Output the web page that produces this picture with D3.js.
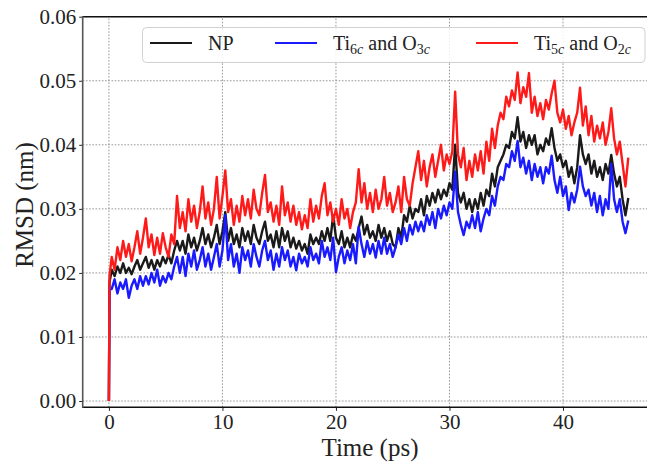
<!DOCTYPE html>
<html><head><meta charset="utf-8">
<script src="https://cdn.jsdelivr.net/npm/d3@7"></script>
<style>body{margin:0;background:#fff}svg{display:block}</style>
</head><body>
<svg id="chart" width="647" height="463"></svg>
<script>
// ---- data (RMSD in nm) ----
const time = [0, 0.05].concat(d3.range(0.25, 45.8, 0.25));
const seriesNames = ["NP", "Ti6c and O3c", "Ti5c and O2c"];
const xTicks = [0, 10, 20, 30, 40];
const yTicks = [0.00, 0.01, 0.02, 0.03, 0.04, 0.05, 0.06];

const npVals = [0, 0.0185,
0.0205,0.0195,0.0210,0.0200, 0.0215,0.0200,0.0208,0.0198, 0.0210,0.0220,0.0205,0.0215, 0.0225,0.0208,0.0220,0.0205,
0.0220,0.0210,0.0225,0.0215, 0.0228,0.0215,0.0235,0.0250, 0.0235,0.0250,0.0230,0.0260, 0.0240,0.0255,0.0235,0.0250,
0.0270,0.0245,0.0260,0.0240, 0.0255,0.0275,0.0245,0.0265, 0.0295,0.0250,0.0270,0.0245, 0.0260,0.0240,0.0270,0.0250,
0.0265,0.0245,0.0275,0.0255, 0.0245,0.0265,0.0280,0.0250, 0.0260,0.0240,0.0265,0.0240, 0.0270,0.0250,0.0265,0.0240,
0.0255,0.0238,0.0250,0.0235, 0.0245,0.0230,0.0260,0.0245, 0.0255,0.0245,0.0265,0.0250, 0.0270,0.0250,0.0290,0.0255,
0.0245,0.0265,0.0240,0.0255, 0.0240,0.0260,0.0250,0.0270, 0.0288,0.0260,0.0275,0.0255, 0.0265,0.0250,0.0275,0.0255,
0.0270,0.0250,0.0265,0.0245, 0.0240,0.0270,0.0255,0.0290, 0.0280,0.0305,0.0285,0.0300, 0.0295,0.0315,0.0290,0.0320,
0.0305,0.0325,0.0310,0.0330, 0.0315,0.0330,0.0320,0.0340, 0.0330,0.0400,0.0325,0.0310, 0.0325,0.0300,0.0315,0.0295,
0.0315,0.0300,0.0325,0.0305, 0.0330,0.0320,0.0355,0.0335, 0.0365,0.0375,0.0385,0.0400, 0.0395,0.0420,0.0410,0.0443,
0.0405,0.0420,0.0395,0.0415, 0.0400,0.0415,0.0385,0.0400, 0.0390,0.0410,0.0400,0.0426, 0.0395,0.0375,0.0385,0.0365,
0.0375,0.0350,0.0365,0.0340, 0.0365,0.0415,0.0385,0.0370, 0.0385,0.0355,0.0375,0.0350, 0.0365,0.0345,0.0370,0.0355,
0.0384,0.0355,0.0335,0.0350, 0.0315,0.0290,0.0317];

const ti6Vals = [0, 0.0175,
0.0175,0.0190,0.0168,0.0185, 0.0175,0.0190,0.0161,0.0180, 0.0190,0.0175,0.0195,0.0180, 0.0195,0.0182,0.0200,0.0185,
0.0205,0.0180,0.0195,0.0185, 0.0200,0.0190,0.0210,0.0225, 0.0200,0.0225,0.0195,0.0230, 0.0210,0.0235,0.0205,0.0220,
0.0240,0.0210,0.0230,0.0205, 0.0225,0.0245,0.0210,0.0235, 0.0290,0.0220,0.0245,0.0210, 0.0230,0.0200,0.0240,0.0220,
0.0235,0.0210,0.0245,0.0225, 0.0210,0.0235,0.0250,0.0220, 0.0235,0.0205,0.0230,0.0210, 0.0240,0.0220,0.0235,0.0210,
0.0225,0.0204,0.0230,0.0215, 0.0225,0.0210,0.0240,0.0220, 0.0230,0.0215,0.0250,0.0225, 0.0240,0.0220,0.0255,0.0201,
0.0225,0.0240,0.0215,0.0235, 0.0220,0.0245,0.0215,0.0272, 0.0245,0.0225,0.0250,0.0230, 0.0245,0.0224,0.0250,0.0230,
0.0255,0.0230,0.0245,0.0225, 0.0240,0.0260,0.0245,0.0270, 0.0250,0.0275,0.0260,0.0280, 0.0265,0.0280,0.0265,0.0290,
0.0275,0.0295,0.0270,0.0300, 0.0285,0.0305,0.0290,0.0310, 0.0300,0.0358,0.0295,0.0275, 0.0259,0.0280,0.0270,0.0290,
0.0270,0.0295,0.0265,0.0285, 0.0300,0.0290,0.0320,0.0305, 0.0335,0.0350,0.0345,0.0370, 0.0365,0.0390,0.0375,0.0406,
0.0365,0.0380,0.0355,0.0375, 0.0345,0.0370,0.0350,0.0365, 0.0340,0.0365,0.0355,0.0383, 0.0345,0.0325,0.0350,0.0320,
0.0335,0.0298,0.0325,0.0310, 0.0330,0.0366,0.0335,0.0320, 0.0330,0.0305,0.0325,0.0295, 0.0320,0.0290,0.0315,0.0300,
0.0370,0.0315,0.0295,0.0315, 0.0280,0.0262,0.0282];

const ti5Vals = [0, 0.0195,
0.0225,0.0205,0.0240,0.0220, 0.0250,0.0225,0.0245,0.0218, 0.0240,0.0265,0.0230,0.0255, 0.0285,0.0240,0.0260,0.0228,
0.0255,0.0230,0.0262,0.0240, 0.0225,0.0260,0.0245,0.0320, 0.0270,0.0295,0.0265,0.0315, 0.0280,0.0305,0.0270,0.0295,
0.0335,0.0285,0.0310,0.0275, 0.0300,0.0350,0.0285,0.0320, 0.0360,0.0295,0.0315,0.0275, 0.0305,0.0280,0.0320,0.0290,
0.0315,0.0285,0.0330,0.0300, 0.0290,0.0325,0.0353,0.0295, 0.0310,0.0280,0.0305,0.0275, 0.0335,0.0290,0.0310,0.0280,
0.0305,0.0275,0.0295,0.0268, 0.0290,0.0270,0.0315,0.0280, 0.0305,0.0285,0.0320,0.0340, 0.0290,0.0310,0.0280,0.0300,
0.0275,0.0315,0.0285,0.0300, 0.0270,0.0295,0.0310,0.0362, 0.0310,0.0340,0.0300,0.0325, 0.0295,0.0330,0.0300,0.0315,
0.0350,0.0305,0.0325,0.0295, 0.0310,0.0335,0.0295,0.0350, 0.0315,0.0305,0.0340,0.0365, 0.0390,0.0345,0.0375,0.0335,
0.0365,0.0385,0.0350,0.0375, 0.0400,0.0360,0.0385,0.0370, 0.0390,0.0483,0.0385,0.0365, 0.0395,0.0345,0.0375,0.0350,
0.0385,0.0360,0.0390,0.0355, 0.0405,0.0375,0.0425,0.0395, 0.0430,0.0450,0.0440,0.0475, 0.0460,0.0485,0.0470,0.0513,
0.0465,0.0490,0.0475,0.0512, 0.0450,0.0475,0.0445,0.0465, 0.0440,0.0470,0.0455,0.0480, 0.0500,0.0450,0.0435,0.0455,
0.0425,0.0445,0.0415,0.0435, 0.0450,0.0489,0.0430,0.0460, 0.0415,0.0445,0.0405,0.0430, 0.0410,0.0435,0.0400,0.0420,
0.0457,0.0410,0.0385,0.0405, 0.0370,0.0335,0.0380];

const seriesValues = [npVals, ti6Vals, ti5Vals];
const seriesColors = ["#1a1a1a", "#1a1aff", "#ff1a1a"];

// ---- layout ----
const svg = d3.select("#chart");
const font = "'Liberation Serif', 'DejaVu Serif', serif";
const x = d3.scaleLinear().domain([-2.31, 48.5]).range([82.7, 659.5]);
const y = d3.scaleLinear().domain([-0.00098, 0.06]).range([407.3, 16.7]);

svg.append("rect").attr("x",0).attr("y",0).attr("width",647).attr("height",463).attr("fill","#fff");

svg.append("defs").append("clipPath").attr("id","clip")
  .append("rect").attr("x",x.range()[0]).attr("y",y.range()[1])
  .attr("width",x.range()[1]-x.range()[0]).attr("height",y.range()[0]-y.range()[1]);

// grid
const grid = svg.append("g").attr("stroke","#8a8a8a").attr("stroke-width",0.9).attr("stroke-dasharray","1.6,1.6");
grid.selectAll("line.gx").data(xTicks).join("line")
  .attr("x1",d=>x(d)).attr("x2",d=>x(d)).attr("y1",y.range()[0]).attr("y2",y.range()[1]);
grid.selectAll("line.gy").data(yTicks).join("line")
  .attr("y1",d=>y(d)).attr("y2",d=>y(d)).attr("x1",x.range()[0]).attr("x2",x.range()[1]);

// lines
const line = d3.line().x((d,i)=>x(time[i])).y(d=>y(d));
const lg = svg.append("g").attr("clip-path","url(#clip)");
seriesValues.forEach((vals,k)=>{
  lg.append("path").datum(vals).attr("d",line).attr("fill","none")
    .attr("stroke",seriesColors[k]).attr("stroke-width",2.4).attr("stroke-linejoin","round");
});

// axes
const xAxis = svg.append("g").attr("transform",`translate(0,${y.range()[0]})`)
  .call(d3.axisBottom(x).tickValues(xTicks).tickSize(3.5).tickPadding(3).tickFormat(d3.format("d")));
const yAxis = svg.append("g").attr("transform",`translate(${x.range()[0]},0)`)
  .call(d3.axisLeft(y).tickValues(yTicks).tickSize(3.5).tickPadding(3).tickFormat(d3.format(".2f")));
[xAxis,yAxis].forEach(a=>{
  a.select(".domain").remove();
  a.selectAll("text").attr("font-family",font).attr("font-size",21).attr("fill","#222");
  a.selectAll("line").attr("stroke","#222").attr("stroke-width",1);
});
xAxis.selectAll("text").attr("dy","0.71em");
yAxis.selectAll("text").attr("dy","0.33em");

// spines
svg.append("line").attr("x1",x.range()[0]).attr("x2",647).attr("y1",y.range()[0]).attr("y2",y.range()[0]).attr("stroke","#111").attr("stroke-width",1.4);
svg.append("line").attr("x1",x.range()[0]).attr("x2",647).attr("y1",y.range()[1]).attr("y2",y.range()[1]).attr("stroke","#111").attr("stroke-width",1.4);
svg.append("line").attr("x1",x.range()[0]).attr("x2",x.range()[0]).attr("y1",y.range()[0]+0.7).attr("y2",y.range()[1]-0.7).attr("stroke","#555").attr("stroke-width",1.6);

// axis labels
svg.append("text").attr("x",370).attr("y",456).attr("text-anchor","middle")
  .attr("font-family",font).attr("font-size",25).attr("fill","#222").text("Time (ps)");
svg.append("text").attr("transform","translate(33,205) rotate(-90)").attr("text-anchor","middle")
  .attr("font-family",font).attr("font-size",25).attr("fill","#222").text("RMSD (nm)");

// legend
const leg = svg.append("g");
leg.append("rect").attr("x",142.5).attr("y",27.5).attr("width",502.5).attr("height",35).attr("rx",4)
  .attr("fill","#fff").attr("fill-opacity",0.85).attr("stroke","#d0d0d0").attr("stroke-width",1);
const legItems = [
  {lx:150, tx:208, parts:[["NP",0,false]]},
  {lx:275, tx:333, parts:[["Ti",0,false],["6",1,false],["c",1,true],[" and O",0,false],["3",1,false],["c",1,true]]},
  {lx:476, tx:534, parts:[["Ti",0,false],["5",1,false],["c",1,true],[" and O",0,false],["2",1,false],["c",1,true]]}
];
legItems.forEach((it,k)=>{
  leg.append("line").attr("x1",it.lx).attr("x2",it.lx+42).attr("y1",43).attr("y2",43)
    .attr("stroke",seriesColors[k]).attr("stroke-width",2);
  const t = leg.append("text").attr("x",it.tx).attr("y",50).attr("font-family",font)
    .attr("font-size",20).attr("fill","#222");
  let prevSub = 0;
  it.parts.forEach(([s,sub,ital])=>{
    const dy = (sub-prevSub)*4;
    t.append("tspan").attr("dy",dy).attr("font-size",sub?14:20)
      .attr("font-style",ital?"italic":"normal").text(s);
    prevSub = sub;
  });
});
</script>
</body></html>
